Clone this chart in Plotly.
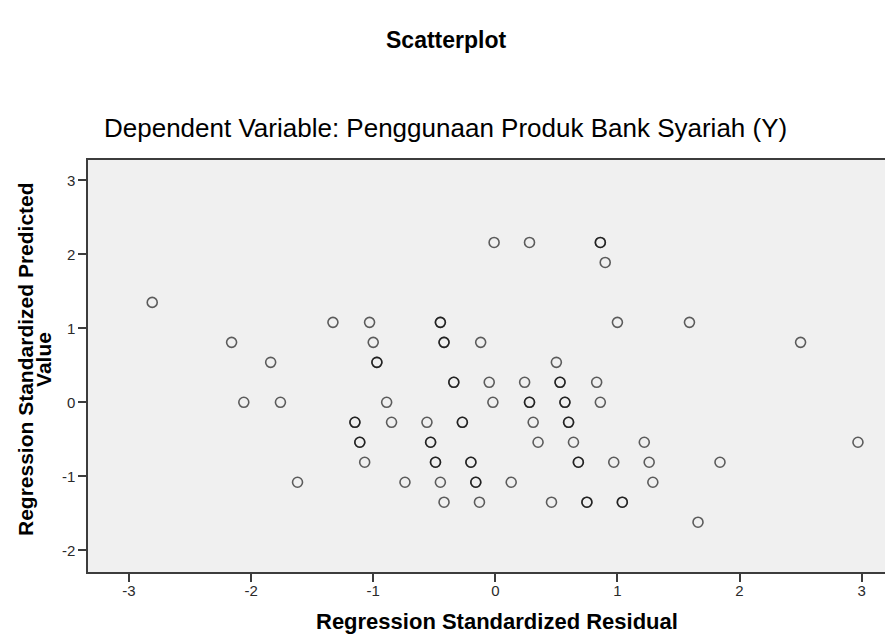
import plotly.graph_objects as go

# Regression Standardized Residual (x) and Regression Standardized Predicted Value (y)
residual = [
    -0.01, 0.28, 0.86, 0.86,
    0.90,
    -2.81,
    -1.33, -1.03, -0.45, -0.45, 1.00, 1.59,
    -2.16, -1.00, -0.42, -0.42, -0.12, 2.50,
    -1.84, -0.97, -0.97, 0.50,
    -0.34, -0.34, -0.05, 0.24, 0.53, 0.53, 0.83,
    -2.06, -1.76, -0.89, -0.02, 0.28, 0.28, 0.57, 0.57, 0.86,
    -1.15, -1.15, -0.85, -0.56, -0.27, -0.27, 0.31, 0.60, 0.60,
    -1.11, -1.11, -0.53, -0.53, 0.35, 0.64, 1.22, 2.97,
    -1.07, -0.49, -0.49, -0.20, -0.20, 0.68, 0.68, 0.97, 1.26, 1.84,
    -1.62, -0.74, -0.45, -0.16, -0.16, 0.13, 1.29,
    -0.42, -0.13, 0.46, 0.75, 0.75, 1.04, 1.04,
    1.66,
]
predicted = (
    [2.16] * 4 + [1.89] * 1 + [1.35] * 1 + [1.08] * 6 + [0.81] * 6 + [0.54] * 4
    + [0.27] * 7 + [0.00] * 9 + [-0.27] * 9 + [-0.54] * 8 + [-0.81] * 10
    + [-1.08] * 7 + [-1.35] * 7 + [-1.62] * 1
)

x_ticks = [-3, -2, -1, 0, 1, 2, 3]
x_tick_labels = ["-3", "-2", "-1", "0", "1", "2", "3"]
y_ticks = [-2, -1, 0, 1, 2, 3]
y_tick_labels = ["-2", "-1", "0", "1", "2", "3"]

FONT = "Liberation Sans, Arial, sans-serif"

fig = go.Figure()
fig.add_trace(go.Scatter(
    x=residual, y=predicted, mode="markers",
    marker=dict(symbol="circle-open", size=10, color="rgba(0,0,0,0.62)",
                line=dict(width=1.6, color="rgba(0,0,0,0.62)")),
    showlegend=False, hoverinfo="x+y",
))

axis_common = dict(
    showgrid=False, zeroline=False, showline=True, linecolor="#3c3c3c", linewidth=1.5,
    ticks="outside", ticklen=8, tickwidth=1.5, tickcolor="#3c3c3c",
    tickfont=dict(family=FONT, size=15, color="#2a2a2a"),
)

fig.update_layout(
    width=893, height=629,
    margin=dict(l=80, r=8, t=152, b=65),
    paper_bgcolor="white", plot_bgcolor="#f0f0f0",
    font=dict(family=FONT),
    xaxis=dict(range=[-3.336, 3.257], tickvals=x_ticks, ticktext=x_tick_labels,
               mirror=True, ticklabelstandoff=-4, **axis_common),
    yaxis=dict(range=[-2.293, 3.274], tickvals=y_ticks, ticktext=y_tick_labels, **axis_common),
    annotations=[
        dict(text="<b>Scatterplot</b>", x=0.4447, y=1.291, xref="paper", yref="paper",
             showarrow=False, xanchor="center", yanchor="middle",
             font=dict(family=FONT, size=23, color="black")),
        dict(text="Dependent Variable: Penggunaan Produk Bank Syariah (Y)", x=0.4447, y=1.0777,
             xref="paper", yref="paper", showarrow=False, xanchor="center", yanchor="middle",
             font=dict(family=FONT, size=26, color="black")),
        dict(text="<b>Regression Standardized Residual</b>", x=0.508, y=-0.119,
             xref="paper", yref="paper", showarrow=False, xanchor="center", yanchor="middle",
             font=dict(family=FONT, size=22, color="black")),
        dict(text="<b>Regression Standardized Predicted</b>", x=-0.077, y=0.517,
             xref="paper", yref="paper", showarrow=False, xanchor="center", yanchor="middle",
             textangle=-90, font=dict(family=FONT, size=21, color="black")),
        dict(text="<b>Value</b>", x=-0.0547, y=0.517,
             xref="paper", yref="paper", showarrow=False, xanchor="center", yanchor="middle",
             textangle=-90, font=dict(family=FONT, size=21, color="black")),
    ],
)

fig.write_html("out.html")
